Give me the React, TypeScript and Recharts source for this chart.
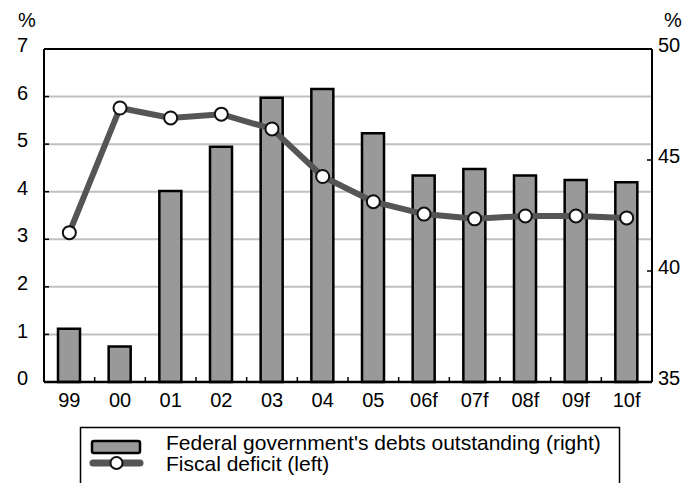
import React from 'react';
import { ComposedChart, Bar, Line, XAxis, YAxis, CartesianGrid, ReferenceLine } from 'recharts';

// fiscal years, "f" = forecast
const years = ['99', '00', '01', '02', '03', '04', '05', '06f', '07f', '08f', '09f', '10f'];
// federal government's debts outstanding, % (right axis)
const debtValues = [37.4, 36.6, 43.6, 45.6, 47.8, 48.2, 46.2, 44.3, 44.6, 44.3, 44.1, 44.0];
// fiscal deficit, % (left axis)
const deficitValues = [3.14, 5.76, 5.55, 5.63, 5.32, 4.32, 3.79, 3.53, 3.43, 3.49, 3.49, 3.45];

const leftTicks = [0, 1, 2, 3, 4, 5, 6, 7];
const rightTicks = [35, 40, 45, 50];

const data = years.map((year, i) => ({
  year,
  debt: debtValues[i],
  deficit: deficitValues[i],
}));

const WIDTH = 697;
const HEIGHT = 483;
const LEFT_AXIS_W = 44;
const RIGHT_AXIS_W = 45;
const PLOT_W = WIDTH - LEFT_AXIS_W - RIGHT_AXIS_W;
const STEP = PLOT_W / years.length;

const FONT = '"Liberation Sans", Arial, Helvetica, sans-serif';

const LeftTick = (props: any) => {
  const { x, y, payload } = props;
  return (
    <g>
      <line x1={x} x2={x + 5} y1={y} y2={y} stroke="#000" strokeWidth={1.5} />
      <text x={x - 16} y={y - 4} dy="0.355em" textAnchor="end" fontSize={20} fill="#000" fontFamily={FONT}>
        {payload.value}
      </text>
    </g>
  );
};

const RightTick = (props: any) => {
  const { x, y, payload } = props;
  return (
    <g>
      <line x1={x - 5} x2={x} y1={y} y2={y} stroke="#000" strokeWidth={1.5} />
      <text x={x + 6} y={y - 4} dy="0.355em" textAnchor="start" fontSize={20} fill="#000" fontFamily={FONT}>
        {payload.value}
      </text>
    </g>
  );
};

const BottomTick = (props: any) => {
  const { x, y, payload, index } = props;
  return (
    <g>
      {index > 0 && (
        <line x1={x - STEP / 2} x2={x - STEP / 2} y1={y - 5} y2={y} stroke="#000" strokeWidth={1.5} />
      )}
      <text x={x} y={y + 18} dy="0.355em" textAnchor="middle" fontSize={20} fill="#000" fontFamily={FONT}>
        {payload.value}
      </text>
    </g>
  );
};

export default function App() {
  return (
    <div style={{ position: 'absolute', left: 0, top: 0, width: WIDTH, height: HEIGHT, background: '#fff', overflow: 'hidden' }}>
      <ComposedChart
        width={WIDTH}
        height={HEIGHT}
        data={data}
        margin={{ top: 49, right: 0, bottom: 71, left: 0 }}
      >
        <CartesianGrid yAxisId="left" vertical={false} stroke="#c0c0c0" strokeWidth={2} />
        <XAxis
          dataKey="year"
          height={30}
          axisLine={{ stroke: '#000', strokeWidth: 2.5 }}
          tickLine={false}
          tickSize={0}
          tickMargin={0}
          interval={0}
          tick={<BottomTick />}
        />
        <YAxis
          yAxisId="left"
          width={LEFT_AXIS_W}
          domain={[0, 7]}
          ticks={leftTicks}
          interval={0}
          axisLine={{ stroke: '#000', strokeWidth: 2 }}
          tickLine={false}
          tickSize={0}
          tickMargin={0}
          tick={<LeftTick />}
        />
        <YAxis
          yAxisId="right"
          orientation="right"
          width={RIGHT_AXIS_W}
          domain={[35, 50]}
          ticks={rightTicks}
          interval={0}
          axisLine={{ stroke: '#000', strokeWidth: 2 }}
          tickLine={false}
          tickSize={0}
          tickMargin={0}
          tick={<RightTick />}
        />
        <ReferenceLine yAxisId="left" y={7} stroke="#000" strokeWidth={2} />
        <Bar
          yAxisId="right"
          dataKey="debt"
          barSize={22}
          fill="#999999"
          stroke="#000"
          strokeWidth={2.5}
          isAnimationActive={false}
        />
        <Line
          yAxisId="left"
          dataKey="deficit"
          type="linear"
          stroke="#555555"
          strokeWidth={6}
          dot={{ r: 6.5, fill: '#fff', stroke: '#111', strokeWidth: 2 }}
          activeDot={false}
          isAnimationActive={false}
        />
      </ComposedChart>

      <svg
        width={WIDTH}
        height={HEIGHT}
        style={{ position: 'absolute', left: 0, top: 0, pointerEvents: 'none' }}
        fontFamily={FONT}
      >
        <text x={27} y={27} fontSize={20} textAnchor="middle" fill="#000">%</text>
        <text x={673} y={27} fontSize={20} textAnchor="middle" fill="#000">%</text>

        {/* legend box, open at the bottom edge */}
        <path d="M80.5,500 V427.5 H619.5 V500" fill="none" stroke="#000" strokeWidth={1.5} />
        <rect x={92} y={441} width={48} height={12} rx={2} fill="#999999" stroke="#000" strokeWidth={2.5} />
        <text x={166} y={450} fontSize={21} fill="#000">Federal government's debts outstanding (right)</text>
        <line x1={93} x2={140} y1={463} y2={463} stroke="#555555" strokeWidth={7} strokeLinecap="round" />
        <circle cx={116.5} cy={463} r={6} fill="#fff" stroke="#111" strokeWidth={2} />
        <text x={166} y={471} fontSize={21} fill="#000">Fiscal deficit (left)</text>
      </svg>
    </div>
  );
}
